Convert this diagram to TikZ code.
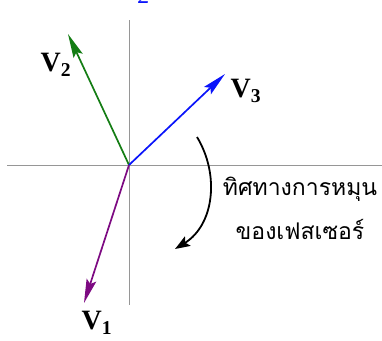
\documentclass[tikz,border=0pt]{standalone}
\usepackage{fontspec}
\setmainfont{Liberation Serif}
\newfontfamily\thaifont[Script=Thai]{Loma}
\usetikzlibrary{arrows.meta}
\definecolor{axisgray}{RGB}{150,150,150}
\definecolor{vgreen}{RGB}{20,125,20}
\definecolor{vblue}{RGB}{10,20,250}
\definecolor{vpurple}{RGB}{125,10,130}
\tikzset{
  axisline/.style={draw=axisgray, line width=1pt},
  phasor/.style={line width=1.7pt, -{Stealth[length=24pt,width=10pt,inset=4pt]}},
  vlabel/.style={font=\fontsize{28}{30}\selectfont\bfseries, inner sep=0pt},
  rotarrow/.style={line width=1.8pt, -{Stealth[length=15pt,width=11pt,inset=3pt]}},
  thaitext/.style={font=\thaifont\fontsize{23}{44}\selectfont, align=center, inner sep=0pt}
}
\begin{document}
\begin{tikzpicture}[x=1pt,y=-1pt]
\useasboundingbox (0,0) rectangle (382,340);
\begin{scope}
\clip (0,0) rectangle (382,340);
\node[text=vblue, font=\itshape\fontsize{24}{26}\selectfont, anchor=south, inner sep=0pt] (top2) at (144,4) {2};
\end{scope}
\coordinate (O) at (129,165);
\coordinate (axT) at (129,20);
\coordinate (axB) at (129,305);
\coordinate (axL) at (7,165);
\coordinate (axR) at (382,165);
\draw[axisline] (axT) -- (axB);
\draw[axisline] (axL) -- (axR);
\coordinate (t2) at (68,34);
\coordinate (t3) at (225,74);
\coordinate (t1) at (84,303);
\draw[phasor, vgreen] (O) -- (t2);
\draw[phasor, vblue] (O) -- (t3);
\draw[phasor, vpurple] (O) -- (t1);
\node[vlabel] (V2) at (56,65) {V$_{\mathbf{2}}$};
\node[vlabel] (V3) at (246,91) {V$_{\mathbf{3}}$};
\node[vlabel] (V1) at (97,323) {V$_{\mathbf{1}}$};
\coordinate (rs) at (197,137);
\coordinate (re) at (175,249);
\draw[rotarrow] (rs) .. controls (220,175) and (214,225) .. (re);
\node[thaitext] (txt) at (300,208) {ทิศทางการหมุน\\ของเฟสเซอร์};
\end{tikzpicture}
\end{document}
